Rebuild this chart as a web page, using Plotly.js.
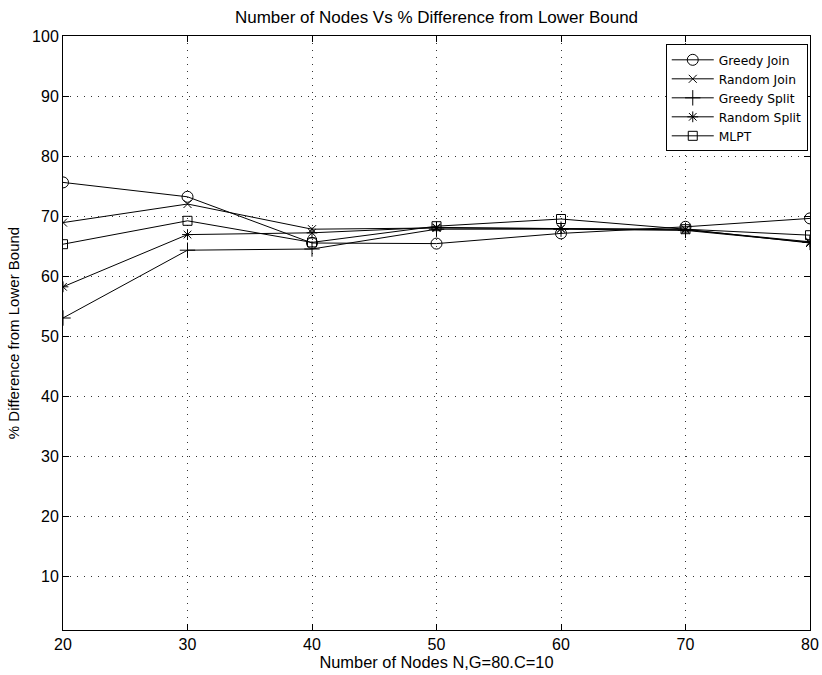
<!DOCTYPE html>
<html>
<head>
<meta charset="utf-8">
<script src="https://cdn.plot.ly/plotly-3.0.1.min.js"></script>
<style>html,body{margin:0;padding:0;background:#fff;}#chart{width:822px;height:675px;}</style>
</head>
<body>
<div id="chart"></div>
<script>
const nodes = [20, 30, 40, 50, 60, 70, 80];
const greedyJoin  = [75.6, 73.2, 65.5, 65.4, 67.1, 68.2, 69.6];
const randomJoin  = [68.9, 72.0, 67.8, 68.0, 67.9, 67.8, 65.5];
const greedySplit = [53.0, 64.3, 64.5, 67.8, 67.8, 67.6, 65.6];
const randomSplit = [58.2, 66.9, 67.2, 68.1, 67.9, 67.7, 65.7];
const mlpt        = [65.3, 69.2, 65.6, 68.3, 69.5, 67.8, 66.8];
const seriesNames = ["Greedy Join", "Random Join", "Greedy Split", "Random Split", "MLPT"];
const symbols = ["circle-open", "x-thin-open", "cross-thin-open", "asterisk-open", "square-open"];
const sizes = [11, 8, 11, 9, 9];
const xTicks = [20, 30, 40, 50, 60, 70, 80];
const yTicks = [10, 20, 30, 40, 50, 60, 70, 80, 90, 100];

const series = [greedyJoin, randomJoin, greedySplit, randomSplit, mlpt];
const traces = series.map((ys, i) => ({
  x: nodes, y: ys, name: seriesNames[i], type: "scatter", mode: "lines+markers",
  line: {color: "#000", width: 1},
  marker: {symbol: symbols[i], size: sizes[i], color: "#000", line: {color: "#000", width: 1}}
}));

const fam = "Liberation Sans, Arial, sans-serif";
const axisCommon = {
  showline: true, linecolor: "#000", linewidth: 1, mirror: "allticks",
  ticks: "inside", ticklen: 6, tickcolor: "#000",
  showgrid: true, gridcolor: "#333", griddash: "1px,6px", gridwidth: 1,
  zeroline: false, tickfont: {family: fam, size: 16, color: "#000"}
};
const layout = {
  width: 822, height: 675,
  margin: {l: 63, r: 12, t: 36, b: 45},
  paper_bgcolor: "#fff", plot_bgcolor: "#fff",
  font: {family: fam, color: "#000"},
  title: {text: "Number of Nodes Vs % Difference from Lower Bound", font: {family: fam, size: 17, color: "#000"},
    xref: "paper", x: 0.5, xanchor: "center", y: 0.975, yanchor: "middle"},
  xaxis: Object.assign({}, axisCommon, {
    range: [20, 80], tickvals: xTicks, ticktext: xTicks.map(String),
    title: {text: "Number of Nodes N,G=80.C=10", font: {family: fam, size: 16.4, color: "#000"}, standoff: 4}
  }),
  yaxis: Object.assign({}, axisCommon, {
    range: [1, 100], tickvals: yTicks, ticktext: yTicks.map(String),
    title: {text: "% Difference from Lower Bound", font: {family: fam, size: 15, color: "#000"}, standoff: 8}
  }),
  showlegend: true,
  legend: {x: 0.997, xanchor: "right", y: 0.986, yanchor: "top", bordercolor: "#000", borderwidth: 1,
    bgcolor: "#fff", font: {family: "DejaVu Sans, sans-serif", size: 12.3, color: "#000"}, tracegroupgap: 0, itemwidth: 42}
};
Plotly.newPlot("chart", traces, layout, {displayModeBar: false, staticPlot: true});
</script>
</body>
</html>
